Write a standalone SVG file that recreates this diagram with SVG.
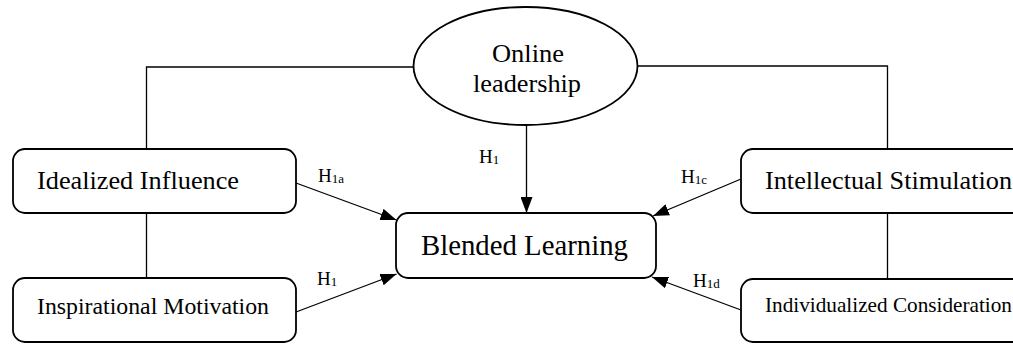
<svg xmlns="http://www.w3.org/2000/svg" width="1013" height="344" viewBox="0 0 1013 344">
  <style>
    .box { fill: #fff; stroke: #000; stroke-width: 1.8; }
    .wire { fill: none; stroke: #000; stroke-width: 1.3; }
    .lbl { font-family: "Liberation Serif", "Times New Roman", serif; fill: #000; }
    .h { font-size: 19px; }
    .sub { font-size: 13px; }
  </style>
  <defs>
    <marker id="arrow" viewBox="0 0 16 12" refX="16" refY="6" markerWidth="16" markerHeight="12" markerUnits="userSpaceOnUse" orient="auto">
      <path d="M0,0 L16,6 L0,12 Z" fill="#000"/>
    </marker>
  </defs>

  <rect width="1013" height="344" fill="#fff"/>

  <!-- connectors and hypothesis labels -->
  <g id="connectors">
    <polyline class="wire" points="414,67 146.5,67 146.5,149"/>
    <polyline class="wire" points="637,66 887.5,66 887.5,149"/>
    <line class="wire" x1="146.5" y1="213" x2="146.5" y2="278"/>
    <line class="wire" x1="887.5" y1="213" x2="887.5" y2="279"/>
    <line class="wire" x1="526.5" y1="125" x2="526.5" y2="213" marker-end="url(#arrow)"/>
    <line class="wire" x1="296" y1="183" x2="396.5" y2="220" marker-end="url(#arrow)"/>
    <line class="wire" x1="296" y1="312" x2="396.5" y2="274" marker-end="url(#arrow)"/>
    <line class="wire" x1="741" y1="179" x2="653" y2="216" marker-end="url(#arrow)"/>
    <line class="wire" x1="741" y1="310" x2="652" y2="277" marker-end="url(#arrow)"/>

    <text class="lbl h" x="318" y="182">H<tspan class="sub" dy="1">1a</tspan></text>
    <text class="lbl h" x="317" y="285">H<tspan class="sub" dy="1">1</tspan></text>
    <text class="lbl h" x="479" y="163">H<tspan class="sub" dy="1">1</tspan></text>
    <text class="lbl h" x="681" y="183">H<tspan class="sub" dy="1">1c</tspan></text>
    <text class="lbl h" x="693" y="287">H<tspan class="sub" dy="1">1d</tspan></text>
  </g>

  <g id="online-leadership">
    <ellipse class="box" cx="525.5" cy="66" rx="112" ry="59" stroke-width="1.3"/>
    <text class="lbl" x="528" y="62" font-size="25" text-anchor="middle" textLength="72" lengthAdjust="spacingAndGlyphs">Online</text>
    <text class="lbl" x="527" y="92" font-size="25" text-anchor="middle" textLength="108" lengthAdjust="spacingAndGlyphs">leadership</text>
  </g>

  <g id="idealized-influence">
    <rect class="box" x="13" y="149" width="283" height="64" rx="12"/>
    <text class="lbl" x="37" y="189" font-size="26" textLength="202" lengthAdjust="spacingAndGlyphs">Idealized Influence</text>
  </g>

  <g id="inspirational-motivation">
    <rect class="box" x="13" y="278" width="283" height="64" rx="12"/>
    <text class="lbl" x="37" y="314" font-size="23.5" textLength="232" lengthAdjust="spacingAndGlyphs">Inspirational Motivation</text>
  </g>

  <g id="blended-learning">
    <rect class="box" x="396" y="213" width="260" height="65" rx="12"/>
    <text class="lbl" x="421" y="255" font-size="28.5" textLength="207" lengthAdjust="spacingAndGlyphs">Blended Learning</text>
  </g>

  <g id="intellectual-stimulation">
    <rect class="box" x="741" y="149" width="300" height="64" rx="12"/>
    <text class="lbl" x="765" y="189" font-size="26" textLength="247" lengthAdjust="spacingAndGlyphs">Intellectual Stimulation</text>
  </g>

  <g id="individualized-consideration">
    <rect class="box" x="741" y="279" width="300" height="63" rx="12"/>
    <text class="lbl" x="765" y="312" font-size="21" textLength="247" lengthAdjust="spacingAndGlyphs">Individualized Consideration</text>
  </g>
</svg>
